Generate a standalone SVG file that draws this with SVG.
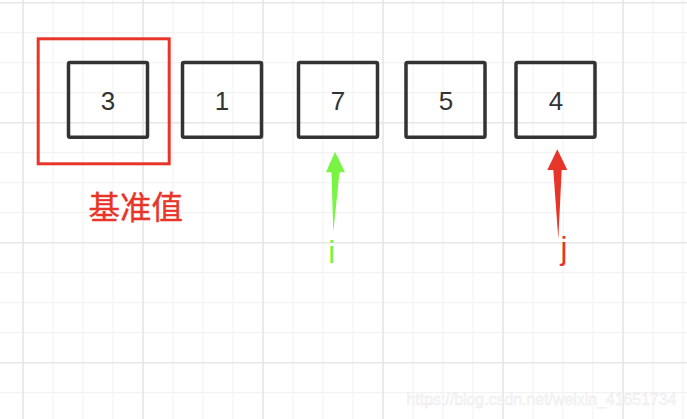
<svg xmlns="http://www.w3.org/2000/svg" width="687" height="419" viewBox="0 0 687 419">
<defs>
<style>
.minor{stroke:#f3f3f3;stroke-width:1.2}
.major{stroke:#e6e6e6;stroke-width:1.6}
.box{fill:none;stroke:#333333;stroke-width:3.5}
.num{font-family:"Liberation Sans",Arial,sans-serif;font-size:26px;fill:#333333;text-anchor:middle}
.red{fill:#e8352a}
.green{fill:#77f542}
.lbl{font-family:"Liberation Sans",Arial,sans-serif;font-size:31px}
</style>
</defs>
<rect x="0" y="0" width="687" height="419" fill="#ffffff"/>
<g id="grid">
<g class="minor">
<line x1="53" y1="0" x2="53" y2="419"/><line x1="83" y1="0" x2="83" y2="419"/><line x1="113" y1="0" x2="113" y2="419"/>
<line x1="173" y1="0" x2="173" y2="419"/><line x1="203" y1="0" x2="203" y2="419"/><line x1="233" y1="0" x2="233" y2="419"/>
<line x1="293" y1="0" x2="293" y2="419"/><line x1="323" y1="0" x2="323" y2="419"/><line x1="353" y1="0" x2="353" y2="419"/>
<line x1="413" y1="0" x2="413" y2="419"/><line x1="443" y1="0" x2="443" y2="419"/><line x1="473" y1="0" x2="473" y2="419"/>
<line x1="533" y1="0" x2="533" y2="419"/><line x1="563" y1="0" x2="563" y2="419"/><line x1="593" y1="0" x2="593" y2="419"/>
<line x1="653" y1="0" x2="653" y2="419"/><line x1="683" y1="0" x2="683" y2="419"/>
<line x1="0" y1="32.7" x2="687" y2="32.7"/><line x1="0" y1="62.7" x2="687" y2="62.7"/><line x1="0" y1="92.7" x2="687" y2="92.7"/>
<line x1="0" y1="152.7" x2="687" y2="152.7"/><line x1="0" y1="182.7" x2="687" y2="182.7"/><line x1="0" y1="212.7" x2="687" y2="212.7"/>
<line x1="0" y1="272.7" x2="687" y2="272.7"/><line x1="0" y1="302.7" x2="687" y2="302.7"/><line x1="0" y1="332.7" x2="687" y2="332.7"/>
<line x1="0" y1="392.7" x2="687" y2="392.7"/>
</g>
<g class="major">
<line x1="23" y1="0" x2="23" y2="419"/><line x1="143" y1="0" x2="143" y2="419"/><line x1="263" y1="0" x2="263" y2="419"/>
<line x1="383" y1="0" x2="383" y2="419"/><line x1="503" y1="0" x2="503" y2="419"/><line x1="623" y1="0" x2="623" y2="419"/>
<line x1="0" y1="2.7" x2="687" y2="2.7"/><line x1="0" y1="122.7" x2="687" y2="122.7"/><line x1="0" y1="242.7" x2="687" y2="242.7"/><line x1="0" y1="362.7" x2="687" y2="362.7"/>
</g>
</g>
<g id="pivot-frame">
<rect x="38.2" y="38.8" width="131" height="125" fill="none" stroke="#e8352a" stroke-width="3"/>
<text x="88.5" y="218.5" font-family="'Noto Sans CJK SC',sans-serif" font-size="31.5" class="red" stroke="#e8352a" stroke-width="0.4">基准值</text>
</g>
<g id="n3"><rect class="box" x="68.5" y="62.5" width="79" height="74.8" rx="1.5"/><text class="num" x="108" y="110">3</text></g>
<g id="n1"><rect class="box" x="182.5" y="62.5" width="79" height="74.8" rx="1.5"/><text class="num" x="222" y="110">1</text></g>
<g id="n7"><rect class="box" x="298.5" y="62.5" width="79" height="74.8" rx="1.5"/><text class="num" x="338" y="110">7</text></g>
<g id="n5"><rect class="box" x="406" y="62.5" width="79" height="74.8" rx="1.5"/><text class="num" x="446" y="110">5</text></g>
<g id="n4"><rect class="box" x="516" y="62.5" width="79" height="74.8" rx="1.5"/><text class="num" x="556" y="110">4</text></g>
<g id="connectors">
<path class="green" d="M335 151.7 L345 172.3 L339.5 172.3 L333.3 232 L331.5 172.3 L326 172.3 Z"/>
<path class="red" d="M557.3 149.3 L567.3 170 L561.7 170 L558.3 239 L553.3 170 L547.3 170 Z"/>
</g>
<g id="labels">
<text class="lbl green" x="331.7" y="263" text-anchor="middle">i</text>
<text class="lbl red" x="564" y="259" text-anchor="middle">j</text>
</g>
<text x="406.5" y="405" font-family="'Liberation Sans',Arial,sans-serif" font-size="16.5" textLength="270" lengthAdjust="spacingAndGlyphs" fill="#f8f8f8" stroke="#e6e6e6" stroke-width="0.35">https://blog.csdn.net/weixin_41651734</text>
</svg>
